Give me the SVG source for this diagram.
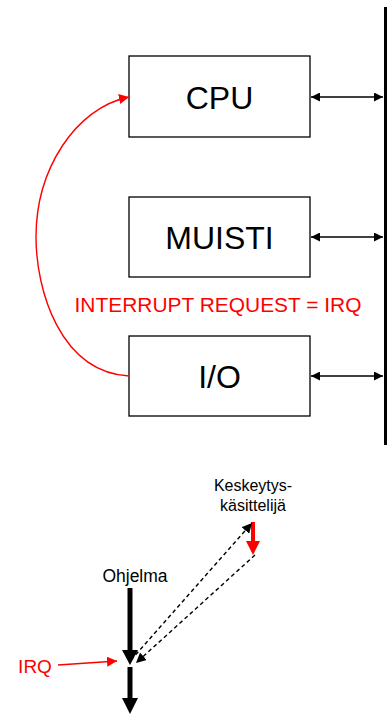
<svg xmlns="http://www.w3.org/2000/svg" width="387" height="714" viewBox="0 0 387 714">
<style>
.box{fill:#fff;stroke:#000;stroke-width:1.3}
.lbl{font-family:"Liberation Sans",Arial,sans-serif;fill:#000;text-anchor:middle}
.big{font-size:32px}
.red{fill:#f00}
.small{font-size:16px}
.bus{stroke:#000;stroke-width:1.5;fill:none}
.dash{stroke:#000;stroke-width:1.4;fill:none;stroke-dasharray:4,3}
</style>
<defs>
<marker id="ah" viewBox="0 0 10 10" refX="10" refY="5" markerWidth="10" markerHeight="9" markerUnits="userSpaceOnUse" orient="auto-start-reverse"><path d="M0,0 L10,5 L0,10 z" fill="#000"/></marker>
<marker id="ahr" viewBox="0 0 10 10" refX="10" refY="5" markerWidth="10" markerHeight="10" markerUnits="userSpaceOnUse" orient="auto"><path d="M0,0 L10,5 L0,10 z" fill="#f00"/></marker>
<marker id="ahd" viewBox="0 0 10 10" refX="10" refY="5" markerWidth="10" markerHeight="10" markerUnits="userSpaceOnUse" orient="auto"><path d="M0,0 L10,5 L0,10 z" fill="#000"/></marker>
</defs>
<rect x="384" y="7" width="3" height="438" fill="#000"/>
<g id="cpu"><rect class="box" x="129" y="56" width="181" height="81"/><text class="lbl big" x="219.5" y="109">CPU</text></g>
<g id="muisti"><rect class="box" x="129" y="197" width="181" height="80"/><text class="lbl big" x="219.5" y="249">MUISTI</text></g>
<g id="io"><rect class="box" x="129" y="336" width="181" height="80"/><text class="lbl big" x="219.5" y="388">I/O</text></g>
<text id="irq-label" class="lbl red" x="218" y="312" font-size="20" textLength="287" lengthAdjust="spacingAndGlyphs">INTERRUPT REQUEST = IRQ</text>
<g id="connectors">
<line class="bus" x1="311" y1="97" x2="383" y2="97" marker-start="url(#ah)" marker-end="url(#ah)"/>
<line class="bus" x1="311" y1="237" x2="383" y2="237" marker-start="url(#ah)" marker-end="url(#ah)"/>
<line class="bus" x1="311" y1="376" x2="383" y2="376" marker-start="url(#ah)" marker-end="url(#ah)"/>
<path d="M129,376 C60,372 36,290 36,237 C36,170 75,108 129,97" fill="none" stroke="#f00" stroke-width="1.4" marker-end="url(#ahr)"/>
</g>
<g id="bottom">
<text class="lbl small" x="253" y="491">Keskeytys-</text>
<text class="lbl small" x="253" y="511">käsittelijä</text>
<text class="lbl" x="135" y="582" font-size="17.5">Ohjelma</text>
<text class="lbl red" x="35" y="673" font-size="19">IRQ</text>
<line x1="130" y1="588" x2="130" y2="652" stroke="#000" stroke-width="5"/>
<path d="M122,650 L138,650 L130,665 z" fill="#000"/>
<line x1="130" y1="667" x2="130" y2="700" stroke="#000" stroke-width="5"/>
<path d="M122,698 L138,698 L130,714 z" fill="#000"/>
<line x1="253" y1="522" x2="253" y2="543" stroke="#f00" stroke-width="4"/>
<path d="M246,541 L260,541 L253,555 z" fill="#f00"/>
<line x1="58" y1="665" x2="117" y2="661" stroke="#f00" stroke-width="1.4" marker-end="url(#ahr)"/>
<line class="dash" x1="131" y1="660" x2="252" y2="523" marker-end="url(#ahd)"/>
<line class="dash" x1="255" y1="555" x2="136" y2="663" marker-end="url(#ahd)"/>
</g>
</svg>
